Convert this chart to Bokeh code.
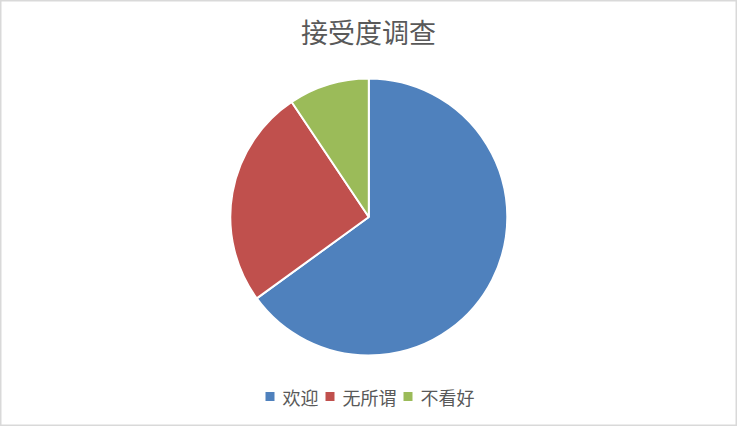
import numpy as np
from bokeh.plotting import figure
from bokeh.models import Range1d, ColumnDataSource
from bokeh.core.properties import value
from bokeh.embed import file_html
from bokeh.resources import INLINE

# ---- data ----
title = "接受度调查"
categories = ["欢迎", "无所谓", "不看好"]
values = [65.0, 25.6, 9.4]
colors = ["#4F81BD", "#C0504D", "#9BBB59"]

W, H = 737, 426
FONT = "Noto Sans CJK SC"

p = figure(width=W, height=H, output_backend="svg", toolbar_location=None,
           x_range=Range1d(0, W), y_range=Range1d(0, H), min_border=0,
           background_fill_color="white", border_fill_color="white")
p.axis.visible = False
p.grid.visible = False
p.outline_line_color = "#D9D9D9"
p.outline_line_width = 2

# pie
vals = np.array(values, dtype=float)
frac = vals / vals.sum()
ends = np.cumsum(frac)
starts = ends - frac
start_angle = np.pi / 2 - starts * 2 * np.pi
end_angle = np.pi / 2 - ends * 2 * np.pi
src = ColumnDataSource(dict(cat=categories, start=start_angle, end=end_angle, color=colors))
cx, cy, r = 368.3, H - 216.5, 138.5
p.wedge(x=cx, y=cy, radius=r, start_angle="start", end_angle="end", direction="clock",
        fill_color="color", line_color="white", line_width=2, source=src)

# title
p.text(x=[368], y=[H - 31], text=[title], text_align="center", text_baseline="middle",
       text_font=value(FONT), text_font_size="27px", text_color="#595959")

# legend (manual, Excel-like squares)
fs = 18
sq, gap_t, gap_i = 9, 8, 7
widths = [sq + gap_t + fs * len(c) for c in categories]
total = sum(widths) + gap_i * (len(categories) - 1)
x0 = 369.5 - total / 2
ly = H - 396
sx, tx = [], []
for w_ in widths:
    sx.append(x0 + sq / 2)
    tx.append(x0 + sq + gap_t)
    x0 += w_ + gap_i
p.scatter(x=sx, y=[ly] * 3, marker="square", size=sq, fill_color=colors, line_color=None)
p.text(x=tx, y=[ly] * 3, text=categories, text_align="left", text_baseline="middle",
       text_font=value(FONT), text_font_size=f"{fs}px", text_color="#595959")

open("out.html", "w").write(file_html(p, INLINE))
